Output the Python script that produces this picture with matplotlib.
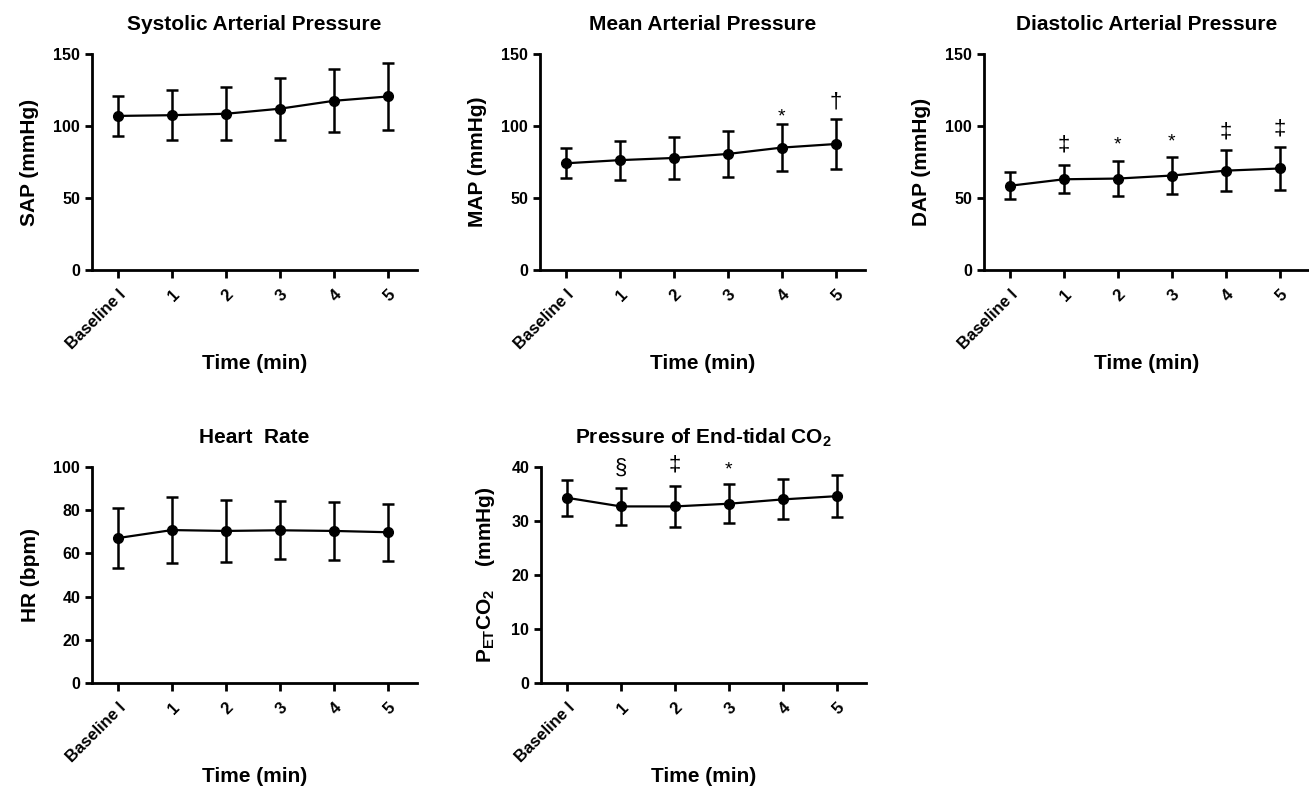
import numpy as np
import matplotlib
matplotlib.use('Agg')
import matplotlib.pyplot as plt

plt.rcParams['font.family'] = ['Liberation Sans', 'DejaVu Sans']
plt.rcParams['font.weight'] = 'bold'
plt.rcParams['mathtext.default'] = 'regular'

time_labels = ['Baseline I', '1', '2', '3', '4', '5']

sap_mean = [107, 107.5, 108.5, 112, 117.5, 120.5]
sap_sd   = [14, 17.5, 18.3, 21.5, 21.8, 23.2]

map_mean = [74.1, 76.3, 77.8, 80.6, 85.0, 87.5]
map_sd   = [10.4, 13.5, 14.8, 15.7, 16.1, 17.4]

dap_mean = [58.5, 63.0, 63.5, 65.6, 69.0, 70.5]
dap_sd   = [9.4, 9.8, 12.1, 13.0, 14.3, 15.0]

hr_mean = [67.1, 70.8, 70.4, 70.7, 70.4, 69.8]
hr_sd   = [13.8, 15.2, 14.5, 13.4, 13.4, 13.2]

co2_mean = [34.3, 32.7, 32.7, 33.2, 34.0, 34.6]
co2_sd   = [3.35, 3.45, 3.75, 3.65, 3.7, 3.95]

# significance marks: (index, symbol, y position)
map_marks = [(4, '*', 106.5), (5, '\u2020', 117)]
dap_marks = [(1, '\u2021', 86.8), (2, '*', 86.5), (3, '*', 88.8), (4, '\u2021', 96), (5, '\u2021', 97.7)]
co2_marks = [(1, '\u00a7', 39.8), (2, '\u2021', 40.3), (3, '*', 39.4)]

W, H = 1309, 788
fig = plt.figure(figsize=(W/100, H/100), dpi=100)


def panel(px_left, px_top, mean, sd, title, ylabel, yticks, marks):
    ax = fig.add_axes([px_left/W, (H - px_top - 216)/H, 325/W, 216/H])
    x = np.arange(len(mean))
    ax.errorbar(x, mean, yerr=sd, fmt='o-', color='black', lw=1.6, ms=7,
                elinewidth=1.8, capsize=4.5, capthick=1.8, clip_on=False)
    ax.set_xlim(-0.48, 5.54)
    ax.set_ylim(yticks[0], yticks[-1])
    ax.set_yticks(yticks)
    ax.set_xticks(x)
    ax.set_xticklabels(time_labels, rotation=45, ha='right', rotation_mode='anchor', fontsize=12)
    ax.tick_params(axis='y', labelsize=11.5, width=2, length=5)
    ax.tick_params(axis='x', width=2, length=6, pad=6)
    for s in ['top', 'right']:
        ax.spines[s].set_visible(False)
    for s in ['left', 'bottom']:
        ax.spines[s].set_linewidth(2)
    ax.set_title(title, fontsize=15, fontweight='bold', pad=17)
    ax.set_ylabel(ylabel, fontsize=15, fontweight='bold', labelpad=10)
    ax.set_xlabel('Time (min)', fontsize=15, fontweight='bold', va='center')
    ax.xaxis.set_label_coords(0.5, -0.435)
    for i, sym, yv in marks:
        fs = 14 if sym == '*' else 16
        ax.text(i, yv, sym, ha='center', va='center', fontsize=fs, fontweight='normal')
    return ax


panel(92, 54, sap_mean, sap_sd, 'Systolic Arterial Pressure', 'SAP (mmHg)', [0, 50, 100, 150], [])
panel(540, 54, map_mean, map_sd, 'Mean Arterial Pressure', 'MAP (mmHg)', [0, 50, 100, 150], map_marks)
panel(984, 54, dap_mean, dap_sd, 'Diastolic Arterial Pressure', 'DAP (mmHg)', [0, 50, 100, 150], dap_marks)
panel(92, 467, hr_mean, hr_sd, 'Heart  Rate', 'HR (bpm)', [0, 20, 40, 60, 80, 100], [])
panel(541, 467, co2_mean, co2_sd, 'Pressure of End-tidal CO$_2$',
      'P$_{ET}$CO$_2$    (mmHg)', [0, 10, 20, 30, 40], co2_marks)

fig.savefig('out.png', dpi=100)
